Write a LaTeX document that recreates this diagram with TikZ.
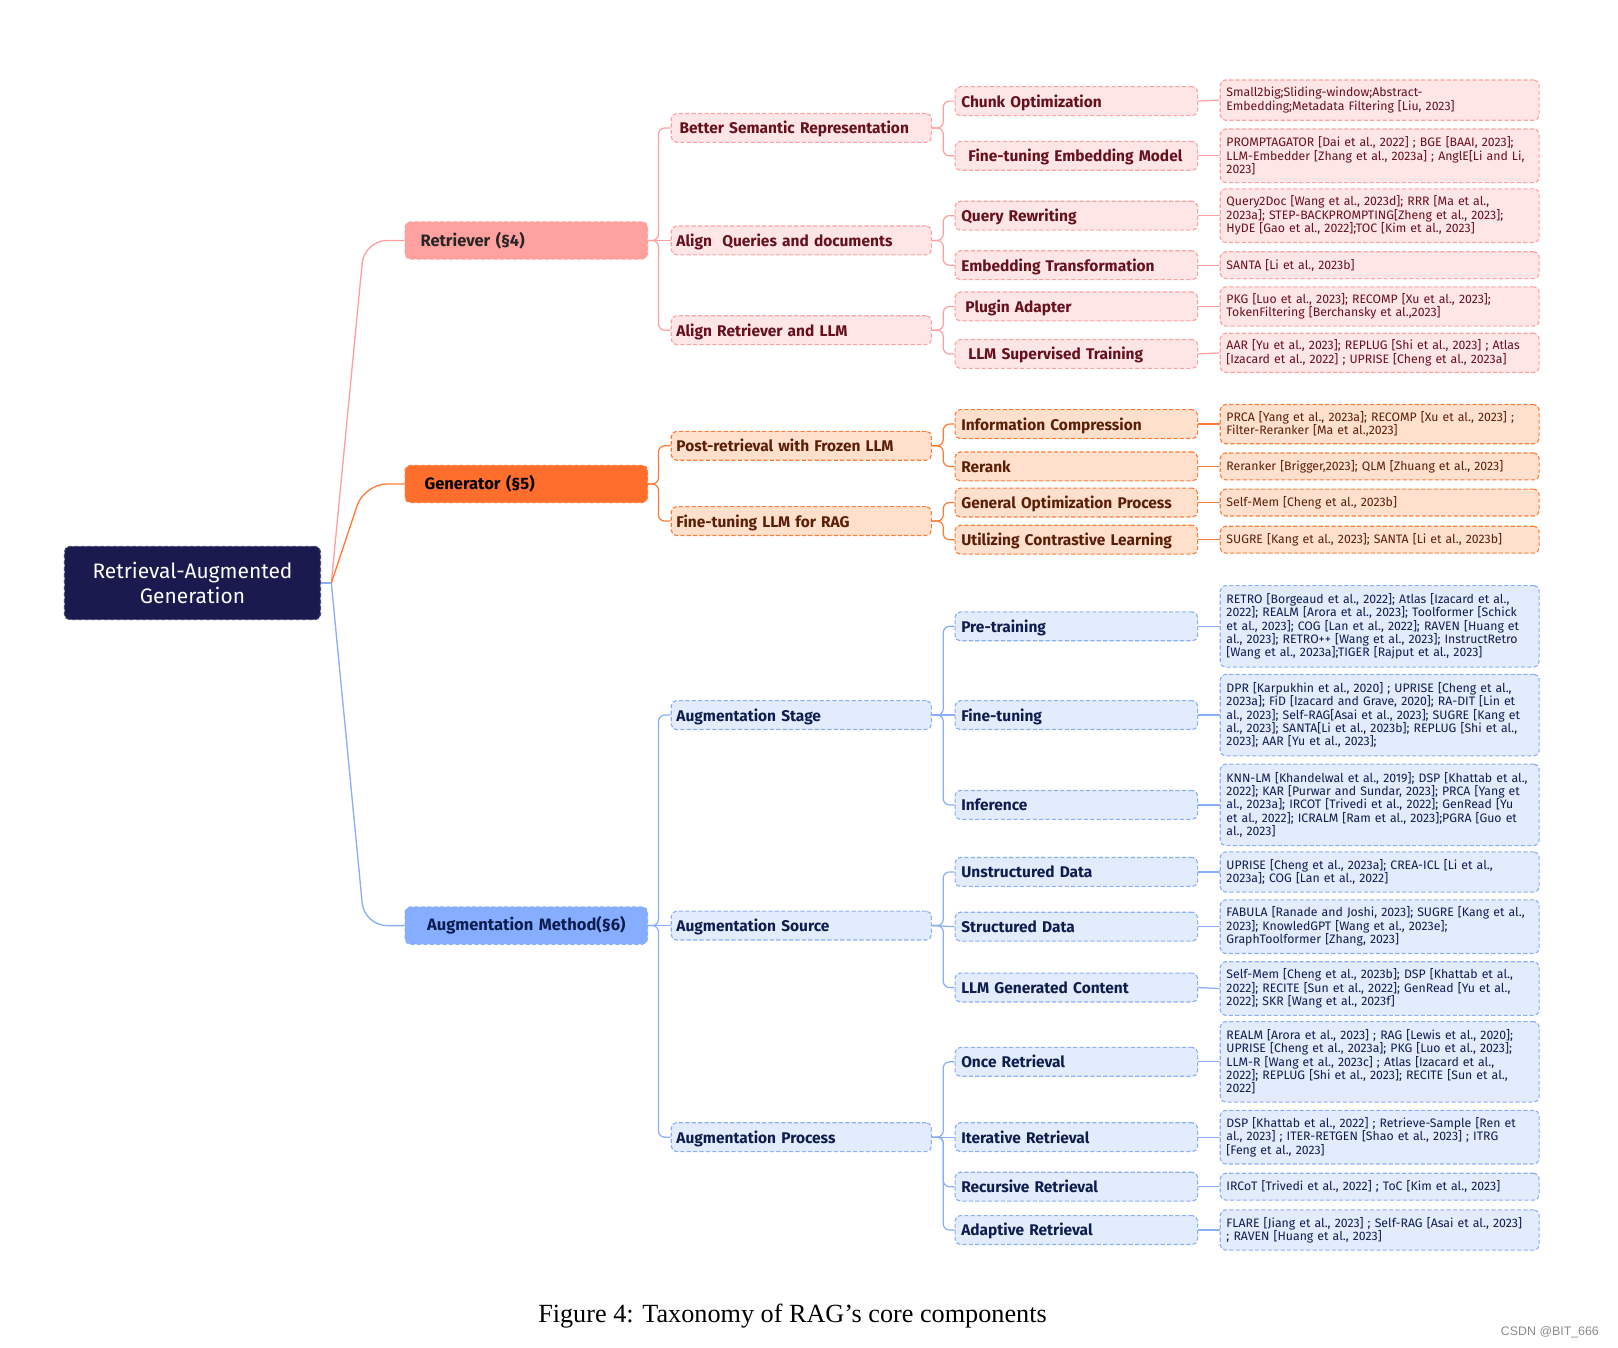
\documentclass[tikz,border=0pt]{standalone}
\usepackage{fontspec}
\setmainfont{Fira Sans}
\newfontfamily\capfont{Liberation Serif}
\newfontfamily\markfont{Liberation Sans}
\usetikzlibrary{calc}
\definecolor{rootbg}{HTML}{1B1A4F}
\definecolor{pinkA}{HTML}{FFA19F}
\definecolor{pinkB}{HTML}{FFE6E6}
\definecolor{pinkL}{HTML}{FFA0A0}
\definecolor{pinkT}{HTML}{66101C}
\definecolor{orA}{HTML}{FF6E2C}
\definecolor{orB}{HTML}{FFE0CD}
\definecolor{orL}{HTML}{FF7C38}
\definecolor{orT}{HTML}{5A1F06}
\definecolor{blA}{HTML}{86ADFF}
\definecolor{blB}{HTML}{E3ECFD}
\definecolor{blL}{HTML}{8AAEF8}
\definecolor{blT}{HTML}{0E1C4E}

\begin{document}
\begin{tikzpicture}[
    x=1pt,y=-1pt,
    box/.style={draw,rounded corners=5pt,dash pattern=on 4pt off 2.2pt,line width=1.1pt,anchor=west,inner ysep=1pt,align=left},
    head/.style={box,text width=205pt,inner xsep=15pt,minimum height=36pt,font=\fontsize{16}{18}\selectfont\bfseries},
    mid/.style={box,text width=242pt,inner xsep=5pt,minimum height=28pt,text height=14pt,text depth=2.5pt,font=\fontsize{15}{17}\selectfont\bfseries},
    sub/.style={box,text width=223pt,inner xsep=6pt,minimum height=28pt,text height=14pt,text depth=2.5pt,font=\fontsize{15}{17}\selectfont\bfseries},
    leaf/.style={box,text width=297pt,inner xsep=6pt,minimum height=#1,font=\fontsize{11.9}{13}\selectfont},
    leaf/.default=26pt,
    pk/.style={draw=pinkL,fill=pinkB,text=pinkT},
    og/.style={draw=orL,fill=orB,text=orT},
    bl/.style={draw=blL,fill=blB,text=blT},
    pklink/.style={draw=pinkL,line width=1.2pt,rounded corners=6pt},
    oglink/.style={draw=orL,line width=1.2pt,rounded corners=6pt},
    bllink/.style={draw=blL,line width=1.2pt,rounded corners=6pt}
  ]
  \useasboundingbox (0,0) rectangle (1568,1306);

  \node[box,fill=rootbg,draw=rootbg!80!white,text=white,minimum width=248pt,minimum height=71pt,align=center,font=\fontsize{20.3}{23.5}\selectfont] (rag) at (62,565) {Retrieval-Augmented\\Generation};

  \node[head,fill=pinkA,draw=pinkL,text=black!85] (ret) at (392,233) {Retriever (\S4)};
  \node[head,fill=orA,draw=orL,text=black] (gen) at (392,469) {\hspace{4pt}Generator (\S5)};
  \node[head,fill=blA,draw=blL,text=blT,align=center] (aug) at (392,897) {Augmentation Method(\S6)};

  \node[mid,pk] (bsr) at (650,124) {\hspace{3pt}Better Semantic Representation};
  \node[mid,pk] (aqd) at (650,233) {Align\ \ Queries and documents};
  \node[mid,pk] (arl) at (650,320) {Align Retriever and LLM};
  \node[mid,og] (prf) at (650,432) {Post-retrieval with Frozen LLM};
  \node[mid,og] (ftl) at (650,505) {Fine-tuning LLM for RAG};
  \node[mid,bl] (ast) at (650,693) {Augmentation Stage};
  \node[mid,bl] (asr) at (650,897) {Augmentation Source};
  \node[mid,bl] (apr) at (650,1102) {Augmentation Process};

  \node[sub,pk] (cho) at (925,98) {Chunk Optimization};
  \node[sub,pk] (fte) at (925,151) {\hspace{7pt}Fine-tuning Embedding Model};
  \node[sub,pk] (qrw) at (925,209) {Query Rewriting};
  \node[sub,pk] (emt) at (925,257) {Embedding Transformation};
  \node[sub,pk] (pla) at (925,297) {\hspace{4pt}Plugin Adapter};
  \node[sub,pk] (lst) at (925,343) {\hspace{7pt}LLM Supervised Training};
  \node[sub,og] (ico) at (925,411) {Information Compression};
  \node[sub,og] (rrk) at (925,452) {Rerank};
  \node[sub,og] (gop) at (925,487) {General Optimization Process};
  \node[sub,og] (ucl) at (925,523) {Utilizing Contrastive Learning};
  \node[sub,bl] (prt) at (925,607) {Pre-training};
  \node[sub,bl] (ftn) at (925,693) {Fine-tuning};
  \node[sub,bl] (inf) at (925,780) {Inference};
  \node[sub,bl] (usd) at (925,845) {Unstructured Data};
  \node[sub,bl] (std) at (925,898) {Structured Data};
  \node[sub,bl] (lgc) at (925,957) {LLM Generated Content};
  \node[sub,bl] (onr) at (925,1029) {Once Retrieval};
  \node[sub,bl] (itr) at (925,1102) {Iterative Retrieval};
  \node[sub,bl] (rcr) at (925,1150) {Recursive Retrieval};
  \node[sub,bl] (adr) at (925,1192) {Adaptive Retrieval};

  \node[leaf=39pt,pk] (cite-cho) at (1182,97) {Small2big;Sliding-window;Abstract-\\Embedding;Metadata Filtering [Liu, 2023]};
  \node[leaf=52pt,pk] (cite-fte) at (1182,151) {PROMPTAGATOR [Dai et al., 2022] ; BGE [BAAI, 2023];\\LLM-Embedder [Zhang et al., 2023a] ; AnglE[Li and Li,\\2023]};
  \node[leaf=52pt,pk] (cite-qrw) at (1182,209) {Query2Doc [Wang et al., 2023d]; RRR [Ma et al.,\\2023a]; STEP-BACKPROMPTING[Zheng et al., 2023];\\HyDE [Gao et al., 2022];TOC [Kim et al., 2023]};
  \node[leaf,pk] (cite-emt) at (1182,257) {SANTA [Li et al., 2023b]};
  \node[leaf=38pt,pk] (cite-pla) at (1182,297) {PKG [Luo et al., 2023]; RECOMP [Xu et al., 2023];\\TokenFiltering [Berchansky et al.,2023]};
  \node[leaf=38pt,pk] (cite-lst) at (1182,342) {AAR [Yu et al., 2023]; REPLUG [Shi et al., 2023] ; Atlas\\\relax[Izacard et al., 2022] ; UPRISE [Cheng et al., 2023a]};
  \node[leaf=38pt,og] (cite-ico) at (1182,411) {PRCA [Yang et al., 2023a]; RECOMP [Xu et al., 2023] ;\\Filter-Reranker [Ma et al.,2023]};
  \node[leaf,og] (cite-rrk) at (1182,452) {Reranker [Brigger,2023]; QLM [Zhuang et al., 2023]};
  \node[leaf,og] (cite-gop) at (1182,487) {Self-Mem [Cheng et al., 2023b]};
  \node[leaf,og] (cite-ucl) at (1182,523) {SUGRE [Kang et al., 2023]; SANTA [Li et al., 2023b]};
  \node[leaf=79pt,bl] (cite-prt) at (1182,607) {RETRO [Borgeaud et al., 2022]; Atlas [Izacard et al.,\\2022]; REALM [Arora et al., 2023]; Toolformer [Schick\\et al., 2023]; COG [Lan et al., 2022]; RAVEN [Huang et\\al., 2023]; RETRO++ [Wang et al., 2023]; InstructRetro\\\relax[Wang et al., 2023a];TIGER [Rajput et al., 2023]};
  \node[leaf=79pt,bl] (cite-ftn) at (1182,693) {DPR [Karpukhin et al., 2020] ; UPRISE [Cheng et al.,\\2023a]; FiD [Izacard and Grave, 2020]; RA-DIT [Lin et\\al., 2023]; Self-RAG[Asai et al., 2023]; SUGRE [Kang et\\al., 2023]; SANTA[Li et al., 2023b]; REPLUG [Shi et al.,\\2023]; AAR [Yu et al., 2023];};
  \node[leaf=79pt,bl] (cite-inf) at (1182,780) {KNN-LM [Khandelwal et al., 2019]; DSP [Khattab et al.,\\2022]; KAR [Purwar and Sundar, 2023]; PRCA [Yang et\\al., 2023a]; IRCOT [Trivedi et al., 2022]; GenRead [Yu\\et al., 2022]; ICRALM [Ram et al., 2023];PGRA [Guo et\\al., 2023]};
  \node[leaf=39pt,bl] (cite-usd) at (1182,845) {UPRISE [Cheng et al., 2023a]; CREA-ICL [Li et al.,\\2023a]; COG [Lan et al., 2022]};
  \node[leaf=52pt,bl] (cite-std) at (1182,898) {FABULA [Ranade and Joshi, 2023]; SUGRE [Kang et al.,\\2023]; KnowledGPT [Wang et al., 2023e];\\GraphToolformer [Zhang, 2023]};
  \node[leaf=52pt,bl] (cite-lgc) at (1182,958) {Self-Mem [Cheng et al., 2023b]; DSP [Khattab et al.,\\2022]; RECITE [Sun et al., 2022]; GenRead [Yu et al.,\\2022]; SKR [Wang et al., 2023f]};
  \node[leaf=78pt,bl] (cite-onr) at (1182,1029) {REALM [Arora et al., 2023] ; RAG [Lewis et al., 2020];\\UPRISE [Cheng et al., 2023a]; PKG [Luo et al., 2023];\\LLM-R [Wang et al., 2023c] ; Atlas [Izacard et al.,\\2022]; REPLUG [Shi et al., 2023]; RECITE [Sun et al.,\\2022]};
  \node[leaf=52pt,bl] (cite-itr) at (1182,1102) {DSP [Khattab et al., 2022] ; Retrieve-Sample [Ren et\\al., 2023] ; ITER-RETGEN [Shao et al., 2023] ; ITRG\\\relax[Feng et al., 2023]};
  \node[leaf,bl] (cite-rcr) at (1182,1150) {IRCoT [Trivedi et al., 2022] ; ToC [Kim et al., 2023]};
  \node[leaf=39pt,bl] (cite-adr) at (1182,1192) {FLARE [Jiang et al., 2023] ; Self-RAG [Asai et al., 2023]\\; RAVEN [Huang et al., 2023]};

  \coordinate (hub) at ($(rag.east)+(10,0)$);
  \draw[draw=blL,line width=1.5pt] (rag.east) -- (hub);
  \draw[draw=pinkL,line width=1.3pt,rounded corners=22pt] (hub) -- ($(ret.west -| hub)+(32,0)$) -- (ret.west);
  \draw[draw=orL,line width=1.3pt,rounded corners=22pt] (hub) -- ($(gen.west -| hub)+(32,0)$) -- (gen.west);
  \draw[draw=blL,line width=1.3pt,rounded corners=22pt] (hub) -- ($(aug.west -| hub)+(32,0)$) -- (aug.west);

  \draw[pklink] (ret.east) -- ++(10,0) |- (bsr.west);
  \draw[pklink] (ret.east) -- (aqd.west);
  \draw[pklink] (ret.east) -- ++(10,0) |- (arl.west);
  \draw[oglink] (gen.east) -- ++(10,0) |- (prf.west);
  \draw[oglink] (gen.east) -- ++(10,0) |- (ftl.west);
  \draw[bllink] (aug.east) -- ++(10,0) |- (ast.west);
  \draw[bllink] (aug.east) -- (asr.west);
  \draw[bllink] (aug.east) -- ++(10,0) |- (apr.west);

  \draw[pklink] (bsr.east) -- ++(11,0) |- (cho.west);
  \draw[pklink] (bsr.east) -- ++(11,0) |- (fte.west);
  \draw[pklink] (aqd.east) -- ++(11,0) |- (qrw.west);
  \draw[pklink] (aqd.east) -- ++(11,0) |- (emt.west);
  \draw[pklink] (arl.east) -- ++(11,0) |- (pla.west);
  \draw[pklink] (arl.east) -- ++(11,0) |- (lst.west);
  \draw[oglink] (prf.east) -- ++(11,0) |- (ico.west);
  \draw[oglink] (prf.east) -- ++(11,0) |- (rrk.west);
  \draw[oglink] (ftl.east) -- ++(11,0) |- (gop.west);
  \draw[oglink] (ftl.east) -- ++(11,0) |- (ucl.west);
  \draw[bllink] (ast.east) -- ++(11,0) |- (prt.west);
  \draw[bllink] (ast.east) -- (ftn.west);
  \draw[bllink] (ast.east) -- ++(11,0) |- (inf.west);
  \draw[bllink] (asr.east) -- ++(11,0) |- (usd.west);
  \draw[bllink] (asr.east) -- (std.west);
  \draw[bllink] (asr.east) -- ++(11,0) |- (lgc.west);
  \draw[bllink] (apr.east) -- ++(11,0) |- (onr.west);
  \draw[bllink] (apr.east) -- (itr.west);
  \draw[bllink] (apr.east) -- ++(11,0) |- (rcr.west);
  \draw[bllink] (apr.east) -- ++(11,0) |- (adr.west);

  \draw[pklink] (cho.east) -- (cite-cho.west);
  \draw[pklink] (fte.east) -- (cite-fte.west);
  \draw[pklink] (qrw.east) -- (cite-qrw.west);
  \draw[pklink] (emt.east) -- (cite-emt.west);
  \draw[pklink] (pla.east) -- (cite-pla.west);
  \draw[pklink] (lst.east) -- (cite-lst.west);
  \draw[oglink] (ico.east) -- (cite-ico.west);
  \draw[oglink] (rrk.east) -- (cite-rrk.west);
  \draw[oglink] (gop.east) -- (cite-gop.west);
  \draw[oglink] (ucl.east) -- (cite-ucl.west);
  \draw[bllink] (prt.east) -- (cite-prt.west);
  \draw[bllink] (ftn.east) -- (cite-ftn.west);
  \draw[bllink] (inf.east) -- (cite-inf.west);
  \draw[bllink] (usd.east) -- (cite-usd.west);
  \draw[bllink] (std.east) -- (cite-std.west);
  \draw[bllink] (lgc.east) -- (cite-lgc.west);
  \draw[bllink] (onr.east) -- (cite-onr.west);
  \draw[bllink] (itr.east) -- (cite-itr.west);
  \draw[bllink] (rcr.east) -- (cite-rcr.west);
  \draw[bllink] (adr.east) -- (cite-adr.west);

  \node[font=\capfont\fontsize{25.4}{30}\selectfont] (caption) at (768,1275) {Figure 4: Taxonomy of RAG’s core components};
  \node[anchor=east,text=black!45,font=\markfont\fontsize{12}{14}\selectfont] (mark) at (1553,1291) {CSDN @BIT\_666};
\end{tikzpicture}
\end{document}
